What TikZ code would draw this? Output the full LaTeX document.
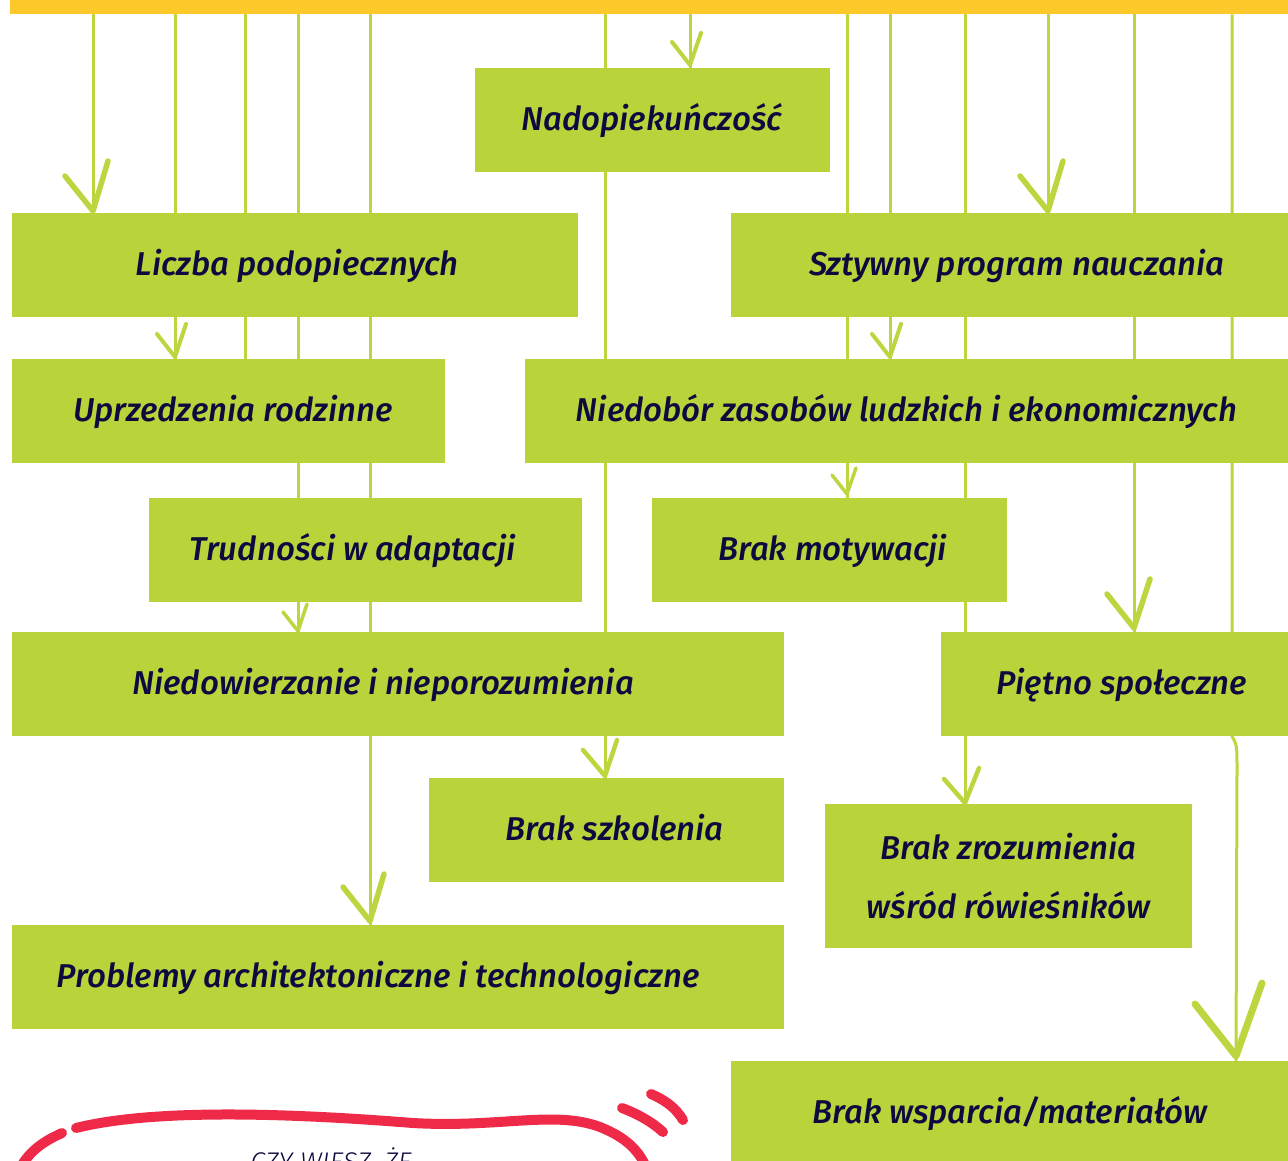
\documentclass[tikz,border=0pt]{standalone}
\usepackage{fontspec}
\IfFontExistsTF{Fira Sans Medium Italic}
  {\setmainfont{Fira Sans}[ItalicFont={Fira Sans Medium Italic}]}
  {\setmainfont{Fira Sans}[ItalicFeatures={FakeBold=1.2}]}
\IfFontExistsTF{Fira Sans Light Italic}
  {\newfontfamily\lightital{Fira Sans Light Italic}}
  {\newfontfamily\lightital{Fira Sans Italic}}
\usetikzlibrary{backgrounds}
\definecolor{boxgreen}{HTML}{B9D43A}
\definecolor{linegreen}{HTML}{BDD640}
\definecolor{baryellow}{HTML}{FDC82A}
\definecolor{navy}{HTML}{0C0A3E}
\definecolor{bubblered}{HTML}{EE2A48}
\newcommand\txs[2]{\hspace*{#1pt}#2\hspace*{-#1pt}}
\begin{document}
\begin{tikzpicture}[x=1pt,y=-1pt,
  boxbase/.style={fill=boxgreen, draw=none, anchor=north west, inner sep=0pt, text=navy},
  box/.style={boxbase, font=\itshape\fontsize{33}{40}\selectfont, text height=24pt, text depth=4pt, minimum height=104pt},
  conn/.style={draw=linegreen, line width=3pt},
  wingsty/.style={draw=linegreen, line cap=round, line join=round},
  pics/wing/.style n args={5}{code={\draw[wingsty, line width=#5] (#1,#2) -- (0,0) -- (#3,#4);}},
  bubble/.style={draw=bubblered, line width=10pt, line cap=round},
]
\useasboundingbox (0,0) rectangle (1288,1160);
\clip (0,0) rectangle (1288,1160);

% top bar
\node[fill=baryellow, anchor=north west, inner sep=0pt, minimum width=1290pt, minimum height=14pt] (bar) at (10,0) {};

% boxes
\node[box, minimum width=355pt] (nadop) at (475,68) {\txs{-1}{Nadopiekuńczość}};
\node[box, minimum width=566pt] (liczba) at (12,213) {\txs{2}{Liczba podopiecznych}};
\node[box, minimum width=557pt] (sztywny) at (731,213) {\txs{7}{Sztywny program nauczania}};
\node[box, minimum width=433pt] (uprz) at (12,359) {\txs{4}{Uprzedzenia rodzinne}};
\node[box, minimum width=763pt] (niedob) at (525,359) {Niedobór zasobów ludzkich i ekonomicznych};
\node[box, minimum width=433pt] (trud) at (149,498) {\txs{-13}{Trudności w adaptacji}};
\node[box, minimum width=355pt] (brakmot) at (652,498) {\txs{3}{Brak motywacji}};
\node[box, minimum width=772pt] (niedow) at (12,632) {\txs{-15}{Niedowierzanie i nieporozumienia}};
\node[box, minimum width=347pt] (pietno) at (941,632) {\txs{7}{Piętno społeczne}};
\node[box, minimum width=355pt] (brakszk) at (429,778) {\txs{8}{Brak szkolenia}};
\node[boxbase, minimum width=367pt, minimum height=144pt, align=center,
      font=\itshape\fontsize{33}{59}\selectfont] (brakzroz) at (825,804) {Brak zrozumienia\\wśród rówieśników};
\node[box, minimum width=772pt] (problemy) at (12,925) {\txs{-20}{Problemy architektoniczne i technologiczne}};
\node[box, minimum width=557pt] (brakwsp) at (731,1061) {Brak wsparcia/materiałów};

% column coordinates
\foreach \cx in {93,175,245,298,370,605,690,847,890,965,1048,1134,1232,1236}
  \coordinate (c\cx) at (\cx,0);

% connectors (behind boxes)
\begin{scope}[on background layer]
  \draw[conn] (bar.south -| c93) -- (liczba.north -| c93);
  \draw[conn] (bar.south -| c175) -- (uprz.north -| c175);
  \draw[conn] (bar.south -| c245) -- (uprz.north -| c245);
  \draw[conn] (bar.south -| c298) -- (niedow.north -| c298);
  \draw[conn] (bar.south -| c370) -- (problemy.north -| c370);
  \draw[conn] (bar.south -| c605) -- (brakszk.north -| c605);
  \draw[conn] (bar.south -| c690) -- (nadop.north -| c690);
  \draw[conn] (bar.south -| c847) -- (brakmot.north -| c847);
  \draw[conn] (bar.south -| c890) -- (niedob.north -| c890);
  \draw[conn] (bar.south -| c965) -- (brakzroz.north -| c965);
  \draw[conn] (bar.south -| c1048) -- (sztywny.north -| c1048);
  \draw[conn] (bar.south -| c1134) -- (pietno.north -| c1134);
  \draw[conn] (bar.south -| c1232) -- (pietno.south -| c1232)
     .. controls (1237,745) .. (1237,772) -- (brakwsp.north -| c1236);
\end{scope}

% arrowheads
\pic at ([yshift=2pt]liczba.north -| c93) {wing={-28}{-35}{15}{-50}{5.5pt}};
\pic at ([yshift=2pt]uprz.north -| c175) {wing={-18}{-23}{11}{-33}{4pt}};
\pic at ([yshift=1pt]niedow.north -| c298) {wing={-15}{-19}{9}{-27}{3.5pt}};
\pic at ([yshift=4pt]problemy.north -| c370) {wing={-27}{-34}{14}{-47}{5.5pt}};
\pic at ([yshift=2pt]brakszk.north -| c605) {wing={-22}{-26}{12}{-36}{4.5pt}};
\pic at ([yshift=3pt]nadop.north -| c690) {wing={-18}{-23}{11}{-32}{4pt}};
\pic at ([yshift=4pt]brakmot.north -| c847) {wing={-15}{-19}{9}{-26}{3.5pt}};
\pic at ([yshift=2pt]niedob.north -| c890) {wing={-18}{-23}{11}{-33}{4pt}};
\pic at ([yshift=1pt]brakzroz.north -| c965) {wing={-21}{-24}{14}{-35}{4.5pt}};
\pic at ([yshift=2pt]sztywny.north -| c1048) {wing={-28}{-35}{15}{-50}{5.5pt}};
\pic at ([yshift=4pt]pietno.north -| c1134) {wing={-27}{-34}{16}{-49}{5.5pt}};
\pic at ([yshift=5pt]brakwsp.north -| c1236) {wing={-41}{-52}{26}{-73}{7pt}};

% speech bubble
\draw[bubble] (62,1133) .. controls (42,1142) and (28,1152) .. (18,1172);
\draw[bubble] (76,1128) .. controls (140,1112) and (250,1110) .. (413,1123)
  .. controls (500,1128) and (555,1110) .. (600,1127)
  .. controls (625,1137) and (640,1150) .. (648,1172);
\draw[bubble] (622,1108) .. controls (638,1114) and (652,1122) .. (663,1132);
\draw[bubble] (651,1094) .. controls (665,1100) and (676,1108) .. (683,1120);
\node[anchor=base, inner sep=0pt, text=navy, font=\lightital\fontsize{27}{32}\selectfont] (czy) at (331,1171) {CZY WIESZ, ŻE};
\end{tikzpicture}
\end{document}
